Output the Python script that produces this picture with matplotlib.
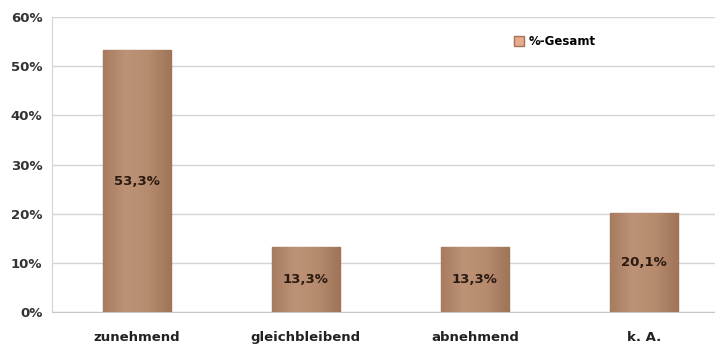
import numpy as np
import matplotlib.pyplot as plt
from matplotlib.colors import LinearSegmentedColormap

# Daten
kategorien = ['zunehmend', 'gleichbleibend', 'abnehmend', 'k. A.']
werte = [53.3, 13.3, 13.3, 20.1]
yticks = [0, 10, 20, 30, 40, 50, 60]

fig = plt.figure(figsize=(7.15, 3.49), dpi=100)
ax = fig.add_axes([0.073, 0.106, 0.927, 0.845])

x = np.arange(len(kategorien))
breite = 0.4
bars = ax.bar(x, werte, width=breite, color='#b68b6e', edgecolor='#9e7458',
              linewidth=1.0, label='%-Gesamt', zorder=3)

# leichter Zylinder-Effekt
cmap = LinearSegmentedColormap.from_list('braun', ['#a67c60', '#bd9276', '#b68b6e', '#a07559'])
grad = np.linspace(0, 1, 100).reshape(1, -1)
for b in bars:
    x0, y0 = b.get_x(), b.get_y()
    img = ax.imshow(grad, cmap=cmap, aspect='auto', zorder=3.5,
                    extent=[x0, x0 + b.get_width(), y0, y0 + b.get_height()])
    img.set_clip_path(b)

# Werte in die Mitte der Balken
for xi, v in zip(x, werte):
    ax.text(xi, v / 2, f'{v:.1f}%'.replace('.', ','), ha='center', va='center',
            fontsize=9.5, fontweight='bold', color='#2a1a10', zorder=4)

ax.set_xlim(-0.5, 3.42)
ax.set_ylim(0, 60)
ax.set_yticks(yticks)
ax.set_yticklabels([f'{t}%' for t in yticks], fontsize=9.5, fontweight='bold', color='#333333')
ax.set_xticks(x)
ax.set_xticklabels(kategorien, fontsize=9.5, fontweight='bold', color='#222222')
ax.tick_params(axis='y', length=0, pad=7)
ax.tick_params(axis='x', length=0, pad=14)
ax.grid(axis='y', color='#d4d4d4', linewidth=1.0, zorder=0)
for s in ['top', 'right']:
    ax.spines[s].set_visible(False)
ax.spines['left'].set_color('#d4d4d4')
ax.spines['bottom'].set_color('#c8c8c8')

leg = ax.legend(loc='upper left', bbox_to_anchor=(0.68, 0.975), frameon=False,
                prop={'size': 8.5, 'weight': 'bold'}, handlelength=0.9, handleheight=0.9,
                handletextpad=0.4)
leg.get_patches()[0].set_facecolor('#e8ab8c')
leg.get_patches()[0].set_edgecolor('#a07558')

fig.savefig('out.png', dpi=100)
